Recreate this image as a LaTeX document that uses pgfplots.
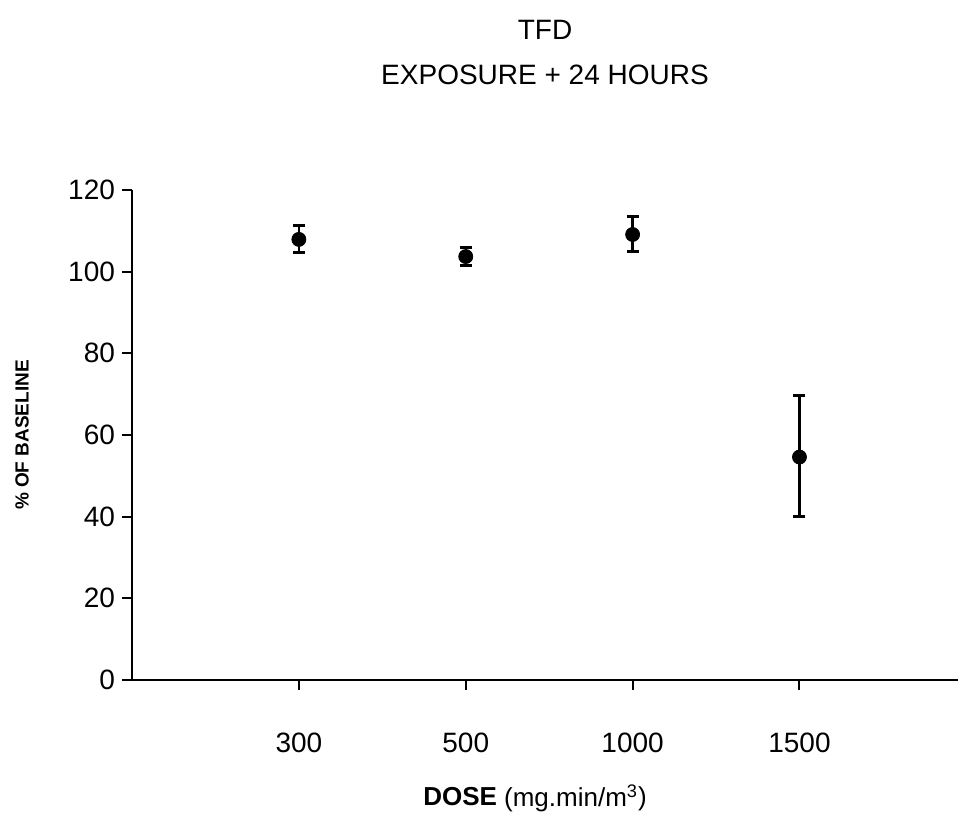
\documentclass[border=0pt]{standalone}
\usepackage{pgfplots}
\pgfplotsset{compat=1.18}
\usepackage{fontspec}
\setmainfont{Liberation Sans}

\pgfplotstableread{
x   y     ep    em
1   107.9 3.5   3.2
2   103.7 2.2   2.2
3   109.1 4.5   4.2
4   54.6  15.0  14.6
}\tfddata

\begin{document}
\begin{tikzpicture}
\begin{axis}[
  scale only axis, width=413pt, height=245pt,
  xmin=0, xmax=4.95, ymin=0, ymax=120,
  axis lines*=left,
  axis line style={line width=1.4pt, -},
  xtick={1,2,3,4}, xticklabels={300,500,1000,1500},
  ytick={0,20,...,120},
  tick style={black, line width=1pt},
  tick align=outside, major tick length=5pt,
  ticklabel style={font=\fontsize{14}{16}\selectfont},
  /pgf/number format/assume math mode=true,
  xticklabel shift=18pt,
  clip=false,
]
  \addplot[only marks, mark=*, black, mark size=3.5pt,
    error bars/.cd, y dir=both, y explicit,
    error bar style={line width=1.2pt, black},
    error mark options={rotate=90, mark size=3pt, line width=1.5pt, black}]
    table[x=x, y=y, y error plus=ep, y error minus=em] {\tfddata};

  \coordinate (sw) at (rel axis cs:0,0);
  \node[font=\fontsize{14}{16}\selectfont] at ([yshift=80pt]rel axis cs:0.5,1) {TFD};
  \node[font=\fontsize{14}{16}\selectfont] at ([yshift=57.5pt]rel axis cs:0.5,1) {EXPOSURE + 24 HOURS};
  \node[font=\fontsize{13}{15}\selectfont] at ([yshift=-59pt,xshift=-5pt]rel axis cs:0.5,0) {\textbf{DOSE} (mg.min/m\textsuperscript{3})};
  \node[font=\fontsize{9.5}{11}\selectfont\bfseries, rotate=90] at ([xshift=-55pt]rel axis cs:0,0.5) {\% OF BASELINE};
\end{axis}
\pgfresetboundingbox
\path[use as bounding box] ([shift={(-66pt,-76.5pt)}]sw) rectangle ++(480pt,416.5pt);
\end{tikzpicture}
\end{document}
